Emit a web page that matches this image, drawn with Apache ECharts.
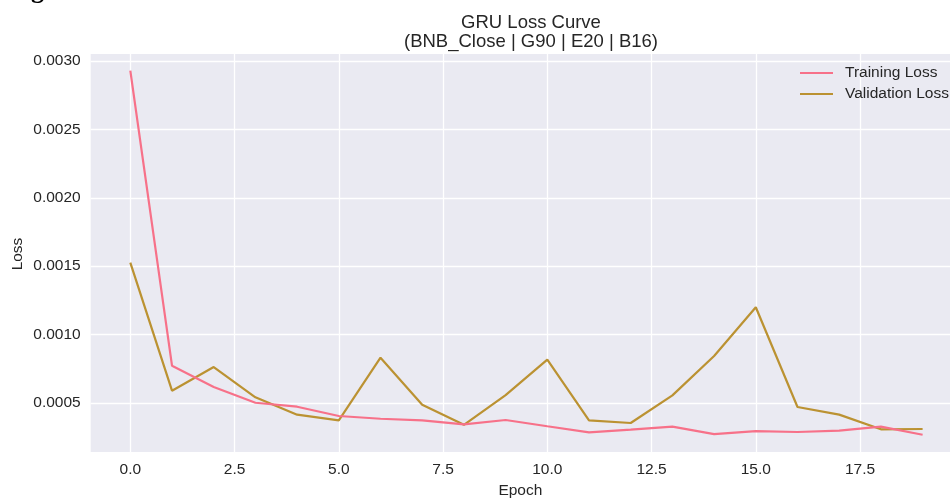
<!DOCTYPE html>
<html>
<head>
<meta charset="utf-8">
<script src="https://cdn.jsdelivr.net/npm/echarts@6/dist/echarts.min.js"></script>
<style>html,body{margin:0;padding:0;background:#fff}#c{width:950px;height:498px}</style>
</head>
<body>
<div id="c"></div>
<script>
const epochs = [0,1,2,3,4,5,6,7,8,9,10,11,12,13,14,15,16,17,18,19];
const trainingLoss = [0.002929,0.000773,0.000617,0.000502,0.000473,0.000405,0.000385,0.000373,0.000344,0.000376,0.000330,0.000286,0.000305,0.000327,0.000273,0.000295,0.000288,0.000298,0.000327,0.000268];
const validationLoss = [0.001526,0.000590,0.000763,0.000542,0.000415,0.000373,0.000831,0.000488,0.000341,0.000558,0.000817,0.000373,0.000354,0.000556,0.000844,0.001200,0.000471,0.000415,0.000308,0.000310];
const xTicks = [0,2.5,5,7.5,10,12.5,15,17.5];
const yTicks = [0.0005,0.0010,0.0015,0.0020,0.0025,0.0030];
const seriesNames = ['Training Loss','Validation Loss'];
const yAxisName = 'Loss';

const FONT = 'Liberation Sans';
const chart = echarts.init(document.getElementById('c'), null, {renderer:'canvas'});
chart.setOption({
  animation:false,
  backgroundColor:'#ffffff',
  title:{
    text:'GRU Loss Curve\n(BNB_Close | G90 | E20 | B16)',
    left:526, top:8, textAlign:'center',
    textStyle:{fontFamily:FONT,fontSize:18.5,fontWeight:'normal',color:'#262626',lineHeight:19}
  },
  graphic:[
    {type:'text',left:31,top:-22,style:{text:'g',font:'bold 26px "Liberation Serif"',fill:'#000'}},
    {type:'text',x:18,y:254,rotation:Math.PI/2,style:{text:yAxisName,font:'15.5px "Liberation Sans"',fill:'#262626',align:'center',verticalAlign:'middle'}}
  ],
  legend:{
    orient:'vertical', left:795, top:60, itemGap:5,
    itemWidth:33, itemHeight:2, icon:'rect',
    textStyle:{fontFamily:FONT,fontSize:15.5,color:'#262626',padding:[0,0,0,7]},
    data:seriesNames
  },
  grid:{left:90.7, top:54, right:0, bottom:46, show:true, backgroundColor:'#EAEAF2', borderWidth:0, containLabel:false, outerBoundsMode:'none'},
  xAxis:{
    type:'value', min:-0.95, max:19.657,
    name:'Epoch', nameLocation:'middle', nameGap:28,
    nameTextStyle:{fontFamily:FONT,fontSize:15.5,color:'#262626'},
    axisLine:{show:false},
    axisTick:{show:false, customValues:xTicks},
    axisLabel:{customValues:xTicks, margin:10, fontFamily:FONT,fontSize:15.5,color:'#262626',formatter:v=>v.toFixed(1)},
    splitLine:{show:true,lineStyle:{color:'#ffffff',width:1.3}}
  },
  yAxis:{
    type:'value', min:0.000142, max:0.003051,
    axisLine:{show:false},
    axisTick:{show:false, customValues:yTicks},
    axisLabel:{customValues:yTicks, margin:10, fontFamily:FONT,fontSize:15.5,color:'#262626',formatter:v=>v.toFixed(4)},
    splitLine:{show:true,lineStyle:{color:'#ffffff',width:1.3}}
  },
  series:[
    {name:seriesNames[0],type:'line',data:epochs.map((e,i)=>[e,trainingLoss[i]]),symbol:'none',color:'#F77189',lineStyle:{width:2.2,color:'#F77189'},z:3},
    {name:seriesNames[1],type:'line',data:epochs.map((e,i)=>[e,validationLoss[i]]),symbol:'none',color:'#BB9232',lineStyle:{width:2.2,color:'#BB9232'},z:2}
  ]
});
</script>
</body>
</html>
